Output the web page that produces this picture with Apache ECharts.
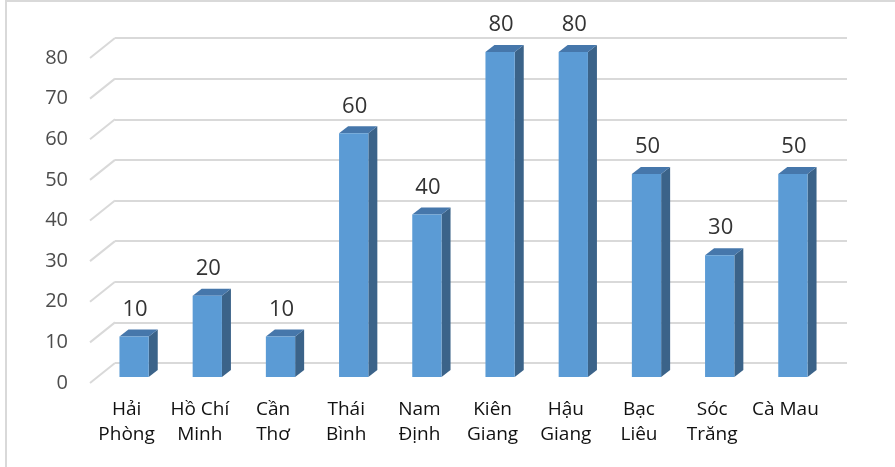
<!DOCTYPE html>
<html>
<head>
<meta charset="utf-8">
<script src="https://cdn.jsdelivr.net/npm/echarts@6/dist/echarts.min.js"></script>
<style>
  html, body { margin: 0; padding: 0; background: #fff; }
  #chart { width: 895px; height: 467px; }
</style>
</head>
<body>
<div id="chart"></div>
<script>
// Provinces and their values
const categories = ['Hải\nPhòng', 'Hồ Chí\nMinh', 'Cần\nThơ', 'Thái\nBình', 'Nam\nĐịnh',
                    'Kiên\nGiang', 'Hậu\nGiang', 'Bạc\nLiêu', 'Sóc\nTrăng', 'Cà Mau'];
const values = [10, 20, 10, 60, 40, 80, 80, 50, 30, 50];
const yTicks = [0, 10, 20, 30, 40, 50, 60, 70, 80];

// Perspective offsets of the 3D box (front plane -> back wall)
const WALL_DX = 25, WALL_DY = -20;
const BAR_DX = 7.5, BAR_DY = -6;     // bar front face set back from the front plane
const DEPTH_DX = 9, DEPTH_DY = -7;   // bar thickness

const FONT = '"Open Sans", "Noto Sans", sans-serif';

const chart = echarts.init(document.getElementById('chart'));

chart.setOption({
  backgroundColor: '#ffffff',
  animation: false,
  graphic: [{
    type: 'rect',
    shape: { x: 6, y: 1, width: 1000, height: 600 },
    style: { fill: 'none', stroke: '#d9d9d9', lineWidth: 2 },
    silent: true
  }],
  grid: [
    // front plane: labels and bars
    { left: 90, right: 73, top: 58, bottom: 84 },
    // back wall: gridlines
    { left: 90 + WALL_DX, right: 73 - WALL_DX, top: 58 + WALL_DY, bottom: 84 - WALL_DY }
  ],
  xAxis: [
    {
      type: 'category', gridIndex: 0, data: categories,
      axisLine: { show: false }, axisTick: { show: false },
      axisLabel: {
        interval: 0, margin: 14, color: '#111111',
        fontFamily: FONT, fontSize: 19, lineHeight: 25
      }
    },
    {
      type: 'category', gridIndex: 1, data: categories,
      axisLine: { show: false }, axisTick: { show: false }, axisLabel: { show: false }
    }
  ],
  yAxis: [
    {
      type: 'value', gridIndex: 0, min: 0, max: 80, interval: 10,
      axisLine: { show: false }, axisTick: { show: false }, splitLine: { show: false },
      axisLabel: { margin: 22, color: '#4d4d4d', fontFamily: FONT, fontSize: 20 }
    },
    {
      type: 'value', gridIndex: 1, min: 0, max: 80, interval: 10,
      axisLine: { show: false }, axisTick: { show: false }, axisLabel: { show: false },
      splitLine: { show: true, lineStyle: { color: '#d9d9d9', width: 2 } }
    }
  ],
  series: [
    // side-wall lines joining the front plane to the back wall
    {
      type: 'custom', xAxisIndex: 0, yAxisIndex: 0, silent: true,
      data: yTicks.map(v => [0, v]),
      renderItem: function (params, api) {
        const rect = params.coordSys;
        const y = api.coord([0, api.value(1)])[1];
        return {
          type: 'line',
          shape: { x1: rect.x, y1: y, x2: rect.x + WALL_DX, y2: y + WALL_DY },
          style: { stroke: '#d9d9d9', lineWidth: 2 }
        };
      },
      z: 1
    },
    // 3D bars with value labels
    {
      type: 'custom', xAxisIndex: 0, yAxisIndex: 0,
      data: values.map((v, i) => [i, v]),
      renderItem: function (params, api) {
        const i = api.value(0), v = api.value(1);
        const top = api.coord([i, v]);
        const base = api.coord([i, 0]);
        const w = api.size([1, 0])[0] * 0.4;
        const x0 = top[0] - w / 2 + BAR_DX, x1 = x0 + w;
        const yT = top[1] + BAR_DY, yB = base[1] + BAR_DY;
        return {
          type: 'group',
          children: [
            { type: 'polygon',
              shape: { points: [[x1, yT], [x1 + DEPTH_DX, yT + DEPTH_DY], [x1 + DEPTH_DX, yB + DEPTH_DY], [x1, yB]] },
              style: { fill: '#3b6389' } },
            { type: 'polygon',
              shape: { points: [[x0, yT], [x0 + DEPTH_DX, yT + DEPTH_DY], [x1 + DEPTH_DX, yT + DEPTH_DY], [x1, yT]] },
              style: { fill: '#4677ab' } },
            { type: 'rect',
              shape: { x: x0, y: yT, width: w, height: yB - yT },
              style: { fill: '#5b9bd5' } },
            { type: 'text',
              style: {
                text: String(v), x: (x0 + x1) / 2 + 1, y: yT - 27,
                align: 'center', verticalAlign: 'middle',
                fill: '#333333', font: '22px ' + FONT
              } }
          ]
        };
      },
      z: 2
    }
  ]
});
</script>
</body>
</html>
